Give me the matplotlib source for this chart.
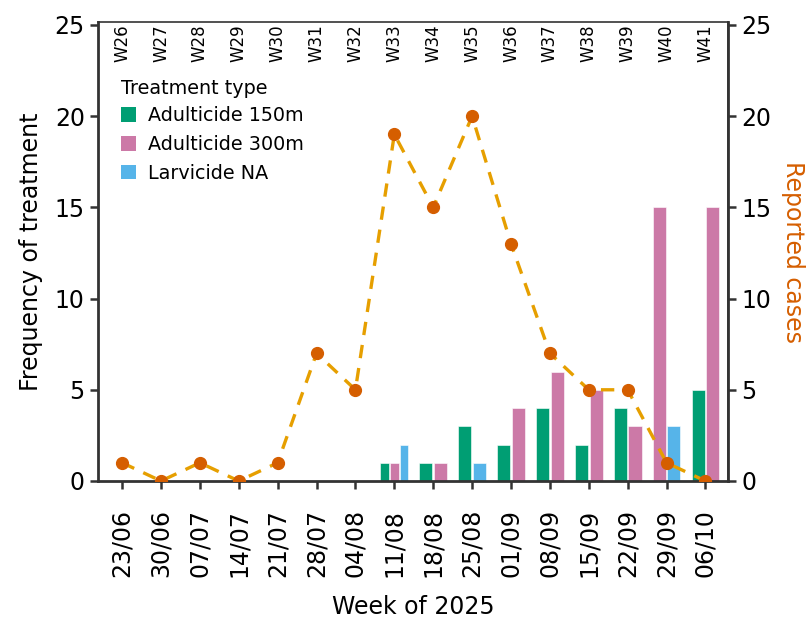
import matplotlib
matplotlib.use("Agg")
import matplotlib.pyplot as plt
import numpy as np
from matplotlib.patches import Patch

weeks = ["23/06", "30/06", "07/07", "14/07", "21/07", "28/07", "04/08", "11/08",
         "18/08", "25/08", "01/09", "08/09", "15/09", "22/09", "29/09", "06/10"]
week_nums = ["W26", "W27", "W28", "W29", "W30", "W31", "W32", "W33",
             "W34", "W35", "W36", "W37", "W38", "W39", "W40", "W41"]
treat_types = ["Adulticide 150m", "Adulticide 300m", "Larvicide NA"]
treat_colors = ["#009E73", "#CC79A7", "#56B4E9"]
adult150 = [0, 0, 0, 0, 0, 0, 0, 1, 1, 3, 2, 4, 2, 4, 0, 5]
adult300 = [0, 0, 0, 0, 0, 0, 0, 1, 1, 0, 4, 6, 5, 3, 15, 15]
larvicide = [0, 0, 0, 0, 0, 0, 0, 2, 0, 1, 0, 0, 0, 0, 3, 0]
cases = [1, 0, 1, 0, 1, 7, 5, 19, 15, 20, 13, 7, 5, 5, 1, 0]

plt.rcParams['font.family'] = ['DejaVu Sans']

fig = plt.figure(figsize=(8.12, 6.24), dpi=100)
ax = fig.add_axes([98/812, 1-481/624, (728-98)/812, (481-22)/624])

series = [adult150, adult300, larvicide]
total_w = 0.75
pad = 0.1
x = np.arange(len(weeks))
for i in range(len(weeks)):
    present = [k for k in range(3) if series[k][i] > 0]
    n = len(present)
    if n == 0:
        continue
    slot = total_w / n
    for j, k in enumerate(present):
        cx = i - total_w/2 + slot*(j+0.5)
        ax.bar(cx, series[k][i], width=slot*(1-pad), color=treat_colors[k],
               edgecolor='white', linewidth=0.4, zorder=2)

ax.set_xlim(-0.62, 15.58)
ax.set_ylim(0, 25.16)
ax.set_yticks([0, 5, 10, 15, 20, 25])
ax.set_xticks(x)
ax.set_xticklabels(weeks, rotation=90)
ax.tick_params(axis='both', labelsize=17, length=6, width=1.8, colors='#333333', labelcolor='black')
ax.tick_params(axis='x', pad=14)
ax.set_xlabel("Week of 2025", fontsize=17, labelpad=13)
ax.set_ylabel("Frequency of treatment", fontsize=17, labelpad=8)
for s in ['left', 'bottom']:
    ax.spines[s].set_linewidth(2.0)
    ax.spines[s].set_color('#333333')
for s in ['top', 'right']:
    ax.spines[s].set_linewidth(1.2)
    ax.spines[s].set_color('#333333')

for i, w in enumerate(week_nums):
    ax.text(i, 25.05, w, rotation=90, ha='center', va='top', fontsize=12, zorder=5)

handles = [Patch(facecolor=c, edgecolor='none', label=l) for c, l in zip(treat_colors, treat_types)]
leg = ax.legend(handles=handles, title="Treatment type", loc='upper left',
                bbox_to_anchor=(0.015, 0.905), frameon=False, fontsize=13.8,
                title_fontsize=13.8, handlelength=0.8, handleheight=0.8,
                handletextpad=0.6, labelspacing=0.5, borderaxespad=0.3)
leg._legend_box.align = "left"
leg._legend_box.sep = 6

ax2 = ax.twinx()
ax2.set_ylim(0, 25.16)
ax2.set_yticks([0, 5, 10, 15, 20, 25])
ax2.plot(x, cases, color='#E69F00', linewidth=2.4, dashes=(4, 3), zorder=3)
ax2.plot(x, cases, 'o', color='#D55E00', markersize=8.5, zorder=4)
ax2.tick_params(axis='y', labelsize=17, length=6, width=1.8, colors='#333333', labelcolor='black')
ax2.spines['right'].set_linewidth(2.0)
ax2.spines['right'].set_color('#333333')
for s in ['top', 'left', 'bottom']:
    ax2.spines[s].set_visible(False)
ax2.set_ylabel("Reported cases", fontsize=17, color='#D55E00', rotation=270, labelpad=24)

fig.savefig("out.png", dpi=100)
